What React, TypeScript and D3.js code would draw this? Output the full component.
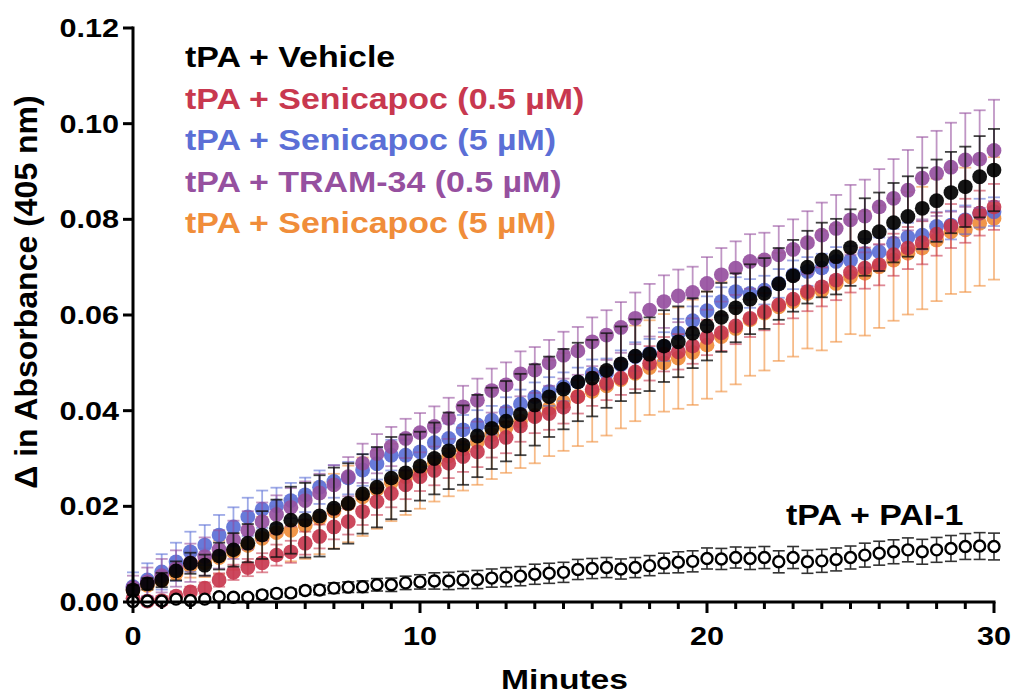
import React from "react";
import * as d3 from "d3";

const minutes = [0,0.5,1,1.5,2,2.5,3,3.5,4,4.5,5,5.5,6,6.5,7,7.5,8,8.5,9,9.5,10,10.5,11,11.5,12,12.5,13,13.5,14,14.5,15,15.5,16,16.5,17,17.5,18,18.5,19,19.5,20,20.5,21,21.5,22,22.5,23,23.5,24,24.5,25,25.5,26,26.5,27,27.5,28,28.5,29,29.5,30];

const vehicle = [0.0025,0.0038,0.0046,0.0065,0.0081,0.0077,0.0096,0.0109,0.0123,0.0140,0.0154,0.0171,0.0171,0.0180,0.0196,0.0206,0.0226,0.0240,0.0259,0.0270,0.0284,0.0300,0.0316,0.0328,0.0347,0.0363,0.0378,0.0392,0.0412,0.0429,0.0445,0.0460,0.0468,0.0484,0.0498,0.0514,0.0518,0.0535,0.0544,0.0562,0.0577,0.0595,0.0615,0.0633,0.0645,0.0665,0.0682,0.0700,0.0715,0.0722,0.0741,0.0763,0.0774,0.0793,0.0806,0.0823,0.0839,0.0856,0.0868,0.0889,0.0903];
const vehicleErr = [0.0010,0.0012,0.0015,0.0020,0.0022,0.0022,0.0028,0.0035,0.0040,0.0050,0.0060,0.0070,0.0078,0.0085,0.0085,0.0084,0.0083,0.0084,0.0086,0.0080,0.0072,0.0075,0.0080,0.0083,0.0086,0.0085,0.0084,0.0085,0.0085,0.0084,0.0084,0.0082,0.0080,0.0078,0.0078,0.0077,0.0077,0.0075,0.0074,0.0073,0.0072,0.0072,0.0072,0.0073,0.0074,0.0075,0.0075,0.0076,0.0078,0.0079,0.0080,0.0081,0.0082,0.0083,0.0084,0.0085,0.0086,0.0085,0.0084,0.0085,0.0086];

const seni05 = [0.0008,0.0002,0.0003,0.0012,0.0021,0.0029,0.0046,0.0062,0.0072,0.0082,0.0098,0.0105,0.0123,0.0137,0.0157,0.0168,0.0189,0.0210,0.0227,0.0245,0.0262,0.0275,0.0290,0.0304,0.0314,0.0335,0.0344,0.0368,0.0387,0.0394,0.0407,0.0429,0.0445,0.0457,0.0468,0.0481,0.0499,0.0518,0.0523,0.0535,0.0553,0.0563,0.0577,0.0593,0.0607,0.0621,0.0633,0.0649,0.0659,0.0673,0.0689,0.0698,0.0705,0.0726,0.0740,0.0751,0.0769,0.0786,0.0797,0.0813,0.0826];
const seni05Err = [0.0008,0.0008,0.0009,0.0010,0.0011,0.0012,0.0014,0.0016,0.0018,0.0020,0.0022,0.0023,0.0024,0.0025,0.0026,0.0027,0.0028,0.0028,0.0029,0.0030,0.0030,0.0031,0.0031,0.0032,0.0032,0.0033,0.0033,0.0033,0.0034,0.0034,0.0034,0.0035,0.0035,0.0035,0.0035,0.0036,0.0036,0.0036,0.0037,0.0037,0.0037,0.0038,0.0038,0.0039,0.0039,0.0040,0.0040,0.0041,0.0041,0.0042,0.0042,0.0043,0.0043,0.0044,0.0044,0.0045,0.0045,0.0046,0.0046,0.0047,0.0048];

const seni5 = [0.0032,0.0046,0.0063,0.0084,0.0105,0.0119,0.0140,0.0157,0.0178,0.0194,0.0201,0.0212,0.0224,0.0240,0.0252,0.0259,0.0276,0.0289,0.0307,0.0307,0.0314,0.0333,0.0342,0.0360,0.0370,0.0380,0.0398,0.0414,0.0429,0.0440,0.0450,0.0460,0.0477,0.0479,0.0496,0.0513,0.0520,0.0534,0.0562,0.0588,0.0609,0.0628,0.0649,0.0645,0.0652,0.0666,0.0684,0.0691,0.0698,0.0712,0.0714,0.0729,0.0732,0.0750,0.0763,0.0767,0.0785,0.0788,0.0799,0.0813,0.0816];
const seni5Err = [0.0030,0.0035,0.0037,0.0040,0.0042,0.0042,0.0042,0.0041,0.0040,0.0039,0.0038,0.0037,0.0036,0.0035,0.0034,0.0034,0.0033,0.0033,0.0032,0.0032,0.0032,0.0031,0.0031,0.0031,0.0031,0.0030,0.0030,0.0030,0.0030,0.0030,0.0030,0.0030,0.0030,0.0030,0.0030,0.0030,0.0030,0.0030,0.0030,0.0030,0.0030,0.0030,0.0030,0.0030,0.0030,0.0030,0.0030,0.0030,0.0030,0.0030,0.0030,0.0030,0.0030,0.0030,0.0030,0.0030,0.0030,0.0030,0.0030,0.0030,0.0030];

const tram34 = [0.0030,0.0042,0.0055,0.0070,0.0082,0.0095,0.0110,0.0130,0.0150,0.0168,0.0183,0.0198,0.0212,0.0228,0.0245,0.0262,0.0290,0.0310,0.0325,0.0342,0.0354,0.0367,0.0384,0.0408,0.0422,0.0442,0.0454,0.0477,0.0485,0.0500,0.0516,0.0525,0.0544,0.0558,0.0574,0.0593,0.0610,0.0628,0.0640,0.0647,0.0666,0.0684,0.0698,0.0712,0.0715,0.0726,0.0737,0.0751,0.0767,0.0781,0.0799,0.0807,0.0826,0.0844,0.0861,0.0886,0.0896,0.0909,0.0924,0.0926,0.0944];
const tram34Err = [0.0025,0.0030,0.0035,0.0038,0.0040,0.0040,0.0040,0.0040,0.0040,0.0040,0.0040,0.0040,0.0040,0.0040,0.0041,0.0041,0.0041,0.0041,0.0041,0.0041,0.0041,0.0042,0.0043,0.0044,0.0045,0.0046,0.0047,0.0047,0.0048,0.0048,0.0049,0.0050,0.0051,0.0052,0.0053,0.0054,0.0055,0.0055,0.0055,0.0054,0.0055,0.0056,0.0056,0.0057,0.0057,0.0060,0.0063,0.0066,0.0068,0.0070,0.0073,0.0076,0.0079,0.0082,0.0084,0.0086,0.0089,0.0093,0.0098,0.0102,0.0106];

const seni5b = [0.0025,0.0035,0.0045,0.0060,0.0075,0.0082,0.0093,0.0105,0.0118,0.0133,0.0145,0.0150,0.0160,0.0175,0.0190,0.0205,0.0220,0.0235,0.0250,0.0262,0.0275,0.0290,0.0305,0.0320,0.0335,0.0350,0.0365,0.0378,0.0390,0.0405,0.0418,0.0430,0.0440,0.0452,0.0465,0.0478,0.0490,0.0500,0.0510,0.0522,0.0537,0.0555,0.0572,0.0590,0.0604,0.0617,0.0628,0.0645,0.0651,0.0666,0.0680,0.0687,0.0701,0.0715,0.0729,0.0740,0.0757,0.0774,0.0778,0.0792,0.0802];
const seni5bErr = [0.0008,0.0009,0.0010,0.0013,0.0024,0.0030,0.0035,0.0038,0.0040,0.0045,0.0055,0.0065,0.0070,0.0075,0.0078,0.0080,0.0082,0.0082,0.0081,0.0080,0.0080,0.0080,0.0084,0.0087,0.0090,0.0093,0.0095,0.0098,0.0100,0.0100,0.0102,0.0104,0.0105,0.0104,0.0102,0.0100,0.0099,0.0102,0.0106,0.0110,0.0112,0.0115,0.0117,0.0117,0.0120,0.0113,0.0115,0.0115,0.0125,0.0122,0.0120,0.0130,0.0128,0.0127,0.0128,0.0128,0.0128,0.0130,0.0130,0.0131,0.0128];

const pai1 = [0.0001,0.0002,0.0002,0.0006,0.0003,0.0006,0.0011,0.0010,0.0010,0.0015,0.0018,0.0019,0.0024,0.0025,0.0029,0.0031,0.0032,0.0036,0.0036,0.0040,0.0042,0.0044,0.0044,0.0046,0.0047,0.0050,0.0052,0.0054,0.0058,0.0060,0.0062,0.0068,0.0070,0.0072,0.0069,0.0072,0.0076,0.0081,0.0083,0.0085,0.0091,0.0090,0.0093,0.0091,0.0093,0.0084,0.0093,0.0084,0.0086,0.0089,0.0093,0.0098,0.0102,0.0105,0.0109,0.0105,0.0109,0.0112,0.0116,0.0117,0.0116];
const pai1Err = [0.0003,0.0003,0.0003,0.0003,0.0003,0.0005,0.0005,0.0005,0.0005,0.0008,0.0008,0.0008,0.0008,0.0010,0.0011,0.0011,0.0012,0.0013,0.0014,0.0014,0.0015,0.0017,0.0018,0.0018,0.0019,0.0019,0.0020,0.0020,0.0021,0.0021,0.0021,0.0021,0.0021,0.0021,0.0021,0.0021,0.0021,0.0021,0.0022,0.0022,0.0022,0.0022,0.0022,0.0023,0.0023,0.0023,0.0023,0.0024,0.0024,0.0024,0.0024,0.0025,0.0025,0.0025,0.0025,0.0026,0.0026,0.0027,0.0027,0.0028,0.0028];

const legendLabels = ["tPA + Vehicle","tPA + Senicapoc (0.5 µM)","tPA + Senicapoc (5 µM)","tPA + TRAM-34 (0.5 µM)","tPA + Senicapoc (5 µM)"];
const legendColors = ["#000000","#c8384f","#5b6fd6","#96509f","#f08d3a"];
const yTicks = [0,0.02,0.04,0.06,0.08,0.1,0.12];
const xMajorTicks = [0,10,20,30];
const xMinorTicks = [1,2,3,4,5,6,7,8,9,11,12,13,14,15,16,17,18,19,21,22,23,24,25,26,27,28,29];

const FONT = "'Liberation Sans', Arial, Helvetica, sans-serif";

function HText({ x, y, anchor = "start", size, color = "#000", weight = "bold", sx = 1.2, children }: any) {
  return (
    <g transform={`translate(${x},${y}) scale(${sx},1)`}>
      <text textAnchor={anchor} fontSize={size} fontWeight={weight} fill={color} fontFamily={FONT}>
        {children}
      </text>
    </g>
  );
}

export default function App() {
  const W = 1012, H = 694;
  const x = d3.scaleLinear().domain([0, 30]).range([133, 994]);
  const y = d3.scaleLinear().domain([0, 0.12]).range([602, 28]);

  const series = [
    { vals: seni5b, err: seni5bErr, color: legendColors[4], bar: "rgba(240,141,58,0.6)" },
    { vals: seni5, err: seni5Err, color: legendColors[2], bar: "rgba(91,111,214,0.6)" },
    { vals: seni05, err: seni05Err, color: legendColors[1], bar: "rgba(200,56,79,0.6)" },
    { vals: tram34, err: tram34Err, color: legendColors[3], bar: "rgba(150,80,159,0.6)" },
    { vals: vehicle, err: vehicleErr, color: "#000000", bar: "rgba(20,20,20,0.8)" },
  ];
  const cap = 6;

  const renderBars = (vals: number[], err: number[], stroke: string, sw: number, key: string) =>
    minutes.map((m, i) => {
      const cx = x(m);
      const y1 = y(vals[i] + err[i]);
      const y2 = y(vals[i] - err[i]);
      return (
        <g key={key + i} stroke={stroke} strokeWidth={sw} fill="none">
          <line x1={cx} x2={cx} y1={y1} y2={y2} />
          <line x1={cx - cap} x2={cx + cap} y1={y1} y2={y1} />
          <line x1={cx - cap} x2={cx + cap} y1={y2} y2={y2} />
        </g>
      );
    });

  return (
    <div style={{ position: "absolute", left: 0, top: 0 }}>
      <svg width={W} height={H} viewBox={`0 0 ${W} ${H}`} style={{ display: "block", background: "#fff" }}>
        <rect width={W} height={H} fill="#fff" />
        {series.map((s, si) => (
          <g key={"s" + si}>
            {renderBars(s.vals, s.err, s.bar, 1.8, "b" + si)}
            {minutes.map((m, i) => (
              <circle key={"c" + si + "-" + i} cx={x(m)} cy={y(s.vals[i])} r={7.4} fill={s.color} fillOpacity={0.92} />
            ))}
          </g>
        ))}
        <g>
          {renderBars(pai1, pai1Err, "#333", 1.6, "p")}
          {minutes.map((m, i) => (
            <circle key={"o" + i} cx={x(m)} cy={y(pai1[i])} r={5.5} fill="#fff" stroke="#000" strokeWidth={2.4} />
          ))}
        </g>

        <g stroke="#000" strokeWidth={3} fill="none" strokeLinecap="butt">
          <line x1={x(0)} x2={x(0)} y1={y(0.12) - 1.5} y2={y(0) + 1.5} />
          <line x1={x(0) - 1.5} x2={x(30) + 1.5} y1={y(0)} y2={y(0)} />
          {yTicks.map((t) => (
            <line key={"yt" + t} x1={x(0) - 10} x2={x(0)} y1={y(t)} y2={y(t)} />
          ))}
          {xMajorTicks.map((t) => (
            <line key={"xt" + t} x1={x(t)} x2={x(t)} y1={y(0)} y2={y(0) + 11} />
          ))}
          {xMinorTicks.map((t) => (
            <line key={"xm" + t} x1={x(t)} x2={x(t)} y1={y(0)} y2={y(0) + 7} />
          ))}
        </g>
        {yTicks.map((t) => (
          <HText key={"yl" + t} x={119} y={y(t) + 9} anchor="end" size={25.5}>
            {t.toFixed(2)}
          </HText>
        ))}
        {xMajorTicks.map((t) => (
          <HText key={"xl" + t} x={x(t)} y={645} anchor="middle" size={25.5}>
            {String(t)}
          </HText>
        ))}
        <HText x={(x(0) + x(30)) / 2 + 1} y={689} anchor="middle" size={28}>
          Minutes
        </HText>
        <text transform="translate(37,292) rotate(-90)" textAnchor="middle" fontSize={32} fontWeight="bold" fontFamily={FONT} fill="#000">
          Δ in Absorbance (405 nm)
        </text>

        {legendLabels.map((l, i) => (
          <HText key={"lg" + i} x={185} y={67 + i * 41.5} size={29} sx={1.17} color={legendColors[i]}>
            {l}
          </HText>
        ))}
        <HText x={786} y={525} size={29} sx={1.17}>
          tPA + PAI-1
        </HText>
      </svg>
    </div>
  );
}
